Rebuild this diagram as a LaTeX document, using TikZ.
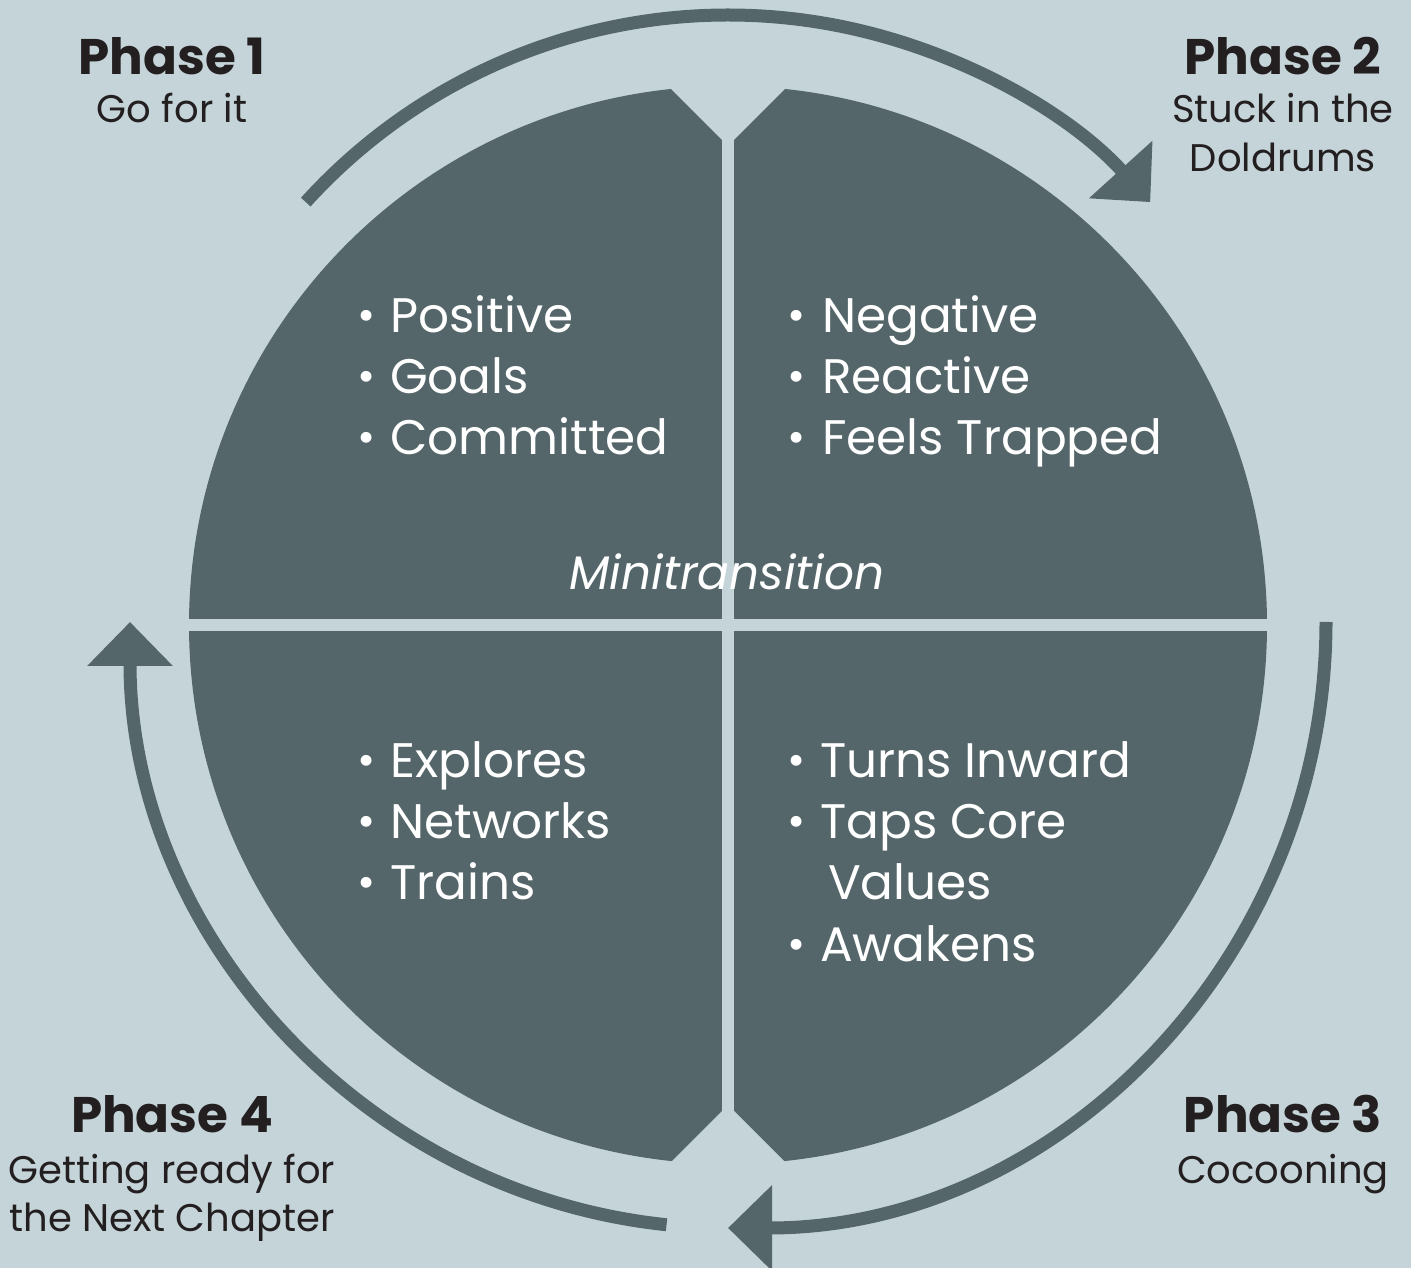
\documentclass[tikz,border=0pt]{standalone}
\usepackage{fontspec}
\setmainfont{Poppins}[Numbers=OldStyle]
\usetikzlibrary{arrows.meta}
\definecolor{bgc}{RGB}{197,212,216}
\definecolor{darkc}{RGB}{84,102,105}
\definecolor{txtc}{RGB}{35,31,32}
\begin{document}
\begin{tikzpicture}[x=1pt,y=1pt,
  cyc/.style={draw=darkc, line width=13pt, -{Triangle[width=83pt,length=44pt]}},
  gapfill/.style={fill=bgc, draw=none},
  ph/.style={anchor=base, inner sep=0pt, text=txtc, font=\fontsize{50}{50}\selectfont\bfseries},
  sub/.style={anchor=base, inner sep=0pt, text=txtc, font=\fontsize{38.5}{38.5}\selectfont},
  item/.style={anchor=base west, inner sep=0pt, text=white, font=\fontsize{48.5}{48.5}\selectfont},
  bul/.style={anchor=center, inner sep=0pt, text=white, font=\fontsize{44}{44}\selectfont},
]
% background and bounding box
\fill[bgc] (0,0) rectangle (1411,1268);
\useasboundingbox (0,0) rectangle (1411,1268);

% central disc split into four quadrants
\coordinate (c) at (728,643);
\fill[darkc] (c) circle[radius=539];
\fill[gapfill] (722,80) rectangle (734,1200);
\fill[gapfill] (180,637) rectangle (1280,649);
\fill[gapfill] (722,1128) -- (650,1200) -- (806,1200) -- (734,1128) -- cycle;
\fill[gapfill] (722,157) -- (650,85) -- (806,85) -- (734,157) -- cycle;

% cycle arrows
\coordinate (o1) at (728,683);
\coordinate (o) at (728,646);
\path (o1) ++(137.8:570) coordinate (s1);
\path (o) ++(0:598 and 606) coordinate (s2);
\path (o) ++(-95.9:598 and 606) coordinate (s3);
\draw[cyc] (s1) arc[start angle=137.8, end angle=42.2, radius=570];
\draw[cyc] (s2) arc[start angle=0, end angle=-90, x radius=598, y radius=606];
\draw[cyc] (s3) arc[start angle=-95.9, end angle=-180, x radius=598, y radius=606];

% phase labels
\node[ph]  (p1)  at (172,1193) {Phase 1};
\node[sub] (p1a) at (172,1145) {Go for it};
\node[ph]  (p2)  at (1283,1193) {Phase 2};
\node[sub] (p2a) at (1283,1145) {Stuck in the};
\node[sub] (p2b) at (1283,1096) {Doldrums};
\node[ph]  (p3)  at (1283,135) {Phase 3};
\node[sub] (p3a) at (1283,84) {Cocooning};
\node[ph]  (p4)  at (172,135) {Phase 4};
\node[sub] (p4a) at (172,84) {Getting ready for};
\node[sub] (p4b) at (172,36) {the Next Chapter};

% quadrant items
\node[bul] (b11) at (367,948) {•}; \node[item] (t11) at (390,935) {Positive};
\node[bul] (b12) at (367,887) {•}; \node[item] (t12) at (390,874) {Goals};
\node[bul] (b13) at (367,826) {•}; \node[item] (t13) at (390,813) {Committed};

\node[bul] (b21) at (797,948) {•}; \node[item] (t21) at (822,935) {Negative};
\node[bul] (b22) at (797,887) {•}; \node[item] (t22) at (822,874) {Reactive};
\node[bul] (b23) at (797,826) {•}; \node[item] (t23) at (822,813) {Feels Trapped};

\node[bul] (b41) at (367,503) {•}; \node[item] (t41) at (390,490) {Explores};
\node[bul] (b42) at (367,442) {•}; \node[item] (t42) at (390,429) {Networks};
\node[bul] (b43) at (367,381) {•}; \node[item] (t43) at (390,368) {Trains};

\node[bul] (b31) at (797,503) {•}; \node[item] (t31) at (820,490) {Turns Inward};
\node[bul] (b32) at (797,442) {•}; \node[item] (t32) at (820,429) {Taps Core};
                                   \node[item] (t33) at (828,368) {Values};
\node[bul] (b34) at (797,319) {•}; \node[item] (t34) at (820,306) {Awakens};

\node[anchor=base, inner sep=0pt, text=white, font=\fontsize{47}{47}\selectfont\itshape] (mt) at (727,678) {Minitransition};
\end{tikzpicture}
\end{document}
